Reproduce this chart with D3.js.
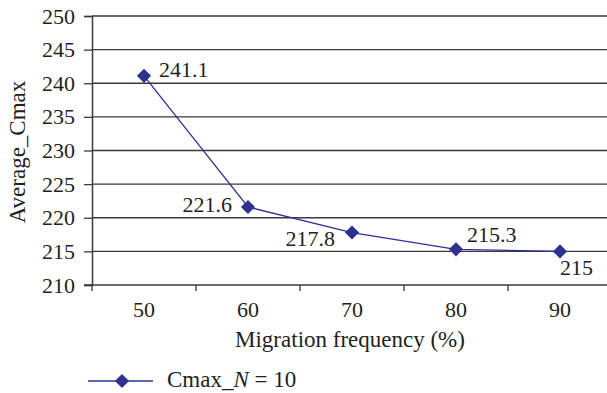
<!DOCTYPE html>
<html>
<head>
<meta charset="utf-8">
<script src="https://cdn.jsdelivr.net/npm/d3@7"></script>
<style>
  html, body { margin: 0; padding: 0; background: #fff; }
  svg { display: block; font-family: "Liberation Serif", "Times New Roman", serif; }
</style>
</head>
<body>
<svg id="chart" width="607" height="393"></svg>
<script>
// Migration frequency categories and average Cmax values
const categories = ["50", "60", "70", "80", "90"];
const cmaxValues = [241.1, 221.6, 217.8, 215.3, 215];
const yTicks = [210, 215, 220, 225, 230, 235, 240, 245, 250];
const seriesName = "Cmax";

const svg = d3.select("#chart");
const margin = { left: 92, top: 16, right: -5, bottom: 108 };
const W = 607, H = 393;
const lineColor = "#2E3192";
const textColor = "#231f20";
const numSize = 22;
const titleSize = 23;

const x = d3.scaleBand().domain(categories).range([margin.left, W - margin.right]).padding(0);
const y = d3.scaleLinear().domain([210, 250]).range([H - margin.bottom, margin.top]);

// horizontal gridlines
svg.append("g")
  .selectAll("line")
  .data(yTicks.filter(t => t > 210))
  .join("line")
  .attr("x1", margin.left).attr("x2", W - margin.right)
  .attr("y1", d => y(d)).attr("y2", d => y(d))
  .attr("stroke", "#3a3a3a").attr("stroke-width", 1.3);

// y axis
const yAxis = svg.append("g")
  .attr("transform", `translate(${margin.left},0)`)
  .call(d3.axisLeft(y).tickValues(yTicks).tickSize(8).tickPadding(9));
yAxis.attr("font-family", "Liberation Serif, serif");
yAxis.select(".domain").attr("stroke", "#3a3a3a").attr("stroke-width", 1.5);
yAxis.selectAll(".tick line").attr("stroke", "#3a3a3a").attr("stroke-width", 1.3);
yAxis.selectAll("text")
  .attr("font-size", numSize)
  .attr("fill", textColor);

// x axis with ticks at category boundaries
const xBase = y(210);
const xAxis = svg.append("g");
xAxis.append("line")
  .attr("x1", margin.left - 8).attr("x2", W - margin.right)
  .attr("y1", xBase).attr("y2", xBase)
  .attr("stroke", "#3a3a3a").attr("stroke-width", 1.5);
const boundaries = categories.map(c => x(c)).concat([x(categories[categories.length - 1]) + x.bandwidth()]);
xAxis.selectAll("line.tk")
  .data(boundaries)
  .join("line").attr("class", "tk")
  .attr("x1", d => d).attr("x2", d => d)
  .attr("y1", xBase).attr("y2", xBase + 6)
  .attr("stroke", "#3a3a3a").attr("stroke-width", 1.3);
xAxis.selectAll("text")
  .data(categories)
  .join("text")
  .attr("x", d => x(d) + x.bandwidth() / 2)
  .attr("y", xBase + 32)
  .attr("text-anchor", "middle")
  .attr("font-size", numSize).attr("fill", textColor)
  .text(d => d);

// axis titles
svg.append("text")
  .attr("x", 350).attr("y", 347)
  .attr("text-anchor", "middle")
  .attr("font-size", titleSize).attr("fill", textColor)
  .text("Migration frequency (%)");
svg.append("text")
  .attr("transform", `translate(25,152) rotate(-90)`)
  .attr("text-anchor", "middle")
  .attr("font-size", titleSize).attr("fill", textColor)
  .text("Average_Cmax");

// series line and markers
const pts = categories.map((c, i) => ({ c, v: cmaxValues[i] }));
const line = d3.line().x(d => x(d.c) + x.bandwidth() / 2).y(d => y(d.v));
svg.append("path")
  .datum(pts)
  .attr("d", line)
  .attr("fill", "none")
  .attr("stroke", lineColor)
  .attr("stroke-width", 1.3);

const diamond = d3.symbol().type(d3.symbolSquare).size(100);
svg.selectAll("path.mk")
  .data(pts)
  .join("path").attr("class", "mk")
  .attr("d", diamond)
  .attr("transform", d => `translate(${x(d.c) + x.bandwidth() / 2},${y(d.v)}) rotate(45)`)
  .attr("fill", lineColor);

// value labels: offset from each marker
const labelOffsets = [
  { dx: 15, dy: 1, anchor: "start" },
  { dx: -16, dy: 5, anchor: "end" },
  { dx: -17, dy: 13.5, anchor: "end" },
  { dx: 11, dy: -7.5, anchor: "start" },
  { dx: 0, dy: 23.6, anchor: "start" }
];
svg.selectAll("text.val")
  .data(pts)
  .join("text").attr("class", "val")
  .attr("x", (d, i) => x(d.c) + x.bandwidth() / 2 + labelOffsets[i].dx)
  .attr("y", (d, i) => y(d.v) + labelOffsets[i].dy)
  .attr("text-anchor", (d, i) => labelOffsets[i].anchor)
  .attr("font-size", numSize).attr("fill", textColor)
  .text(d => d3.format("")(d.v));

// legend
const lg = svg.append("g").attr("transform", "translate(0,381)");
lg.append("line").attr("x1", 88).attr("x2", 153).attr("y1", 0).attr("y2", 0)
  .attr("stroke", lineColor).attr("stroke-width", 1.3);
lg.append("path").attr("d", diamond).attr("transform", "translate(122,0) rotate(45)").attr("fill", lineColor);
const lt = lg.append("text").attr("x", 167).attr("y", 6).attr("font-size", titleSize).attr("fill", textColor);
lt.append("tspan").text(seriesName + "_");
lt.append("tspan").attr("font-style", "italic").text("N");
lt.append("tspan").text(" = 10");
</script>
</body>
</html>
